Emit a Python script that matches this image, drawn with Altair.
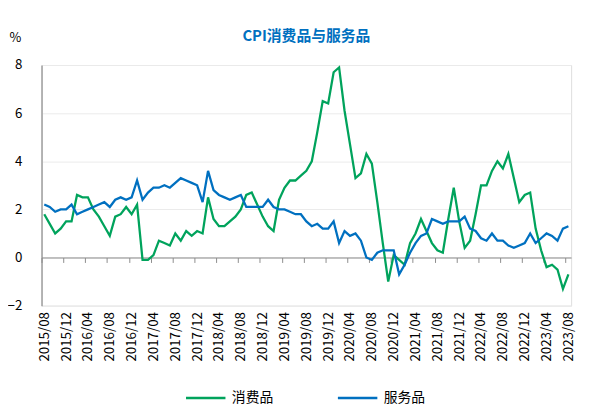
import altair as alt
import pandas as pd

# month categories 2015/08 .. 2023/08
months = []
y, m = 2015, 8
while (y, m) <= (2023, 8):
    months.append(f"{y}/{m:02d}")
    m += 1
    if m > 12:
        m = 1
        y += 1

tick_labels = months[::4]

consumer = [1.8, 1.4, 1.0, 1.2, 1.5, 1.5, 2.6, 2.5, 2.5, 2.0,
            1.7, 1.3, 0.9, 1.7, 1.8, 2.1, 1.8, 2.2, -0.1, -0.1,
            0.1, 0.7, 0.6, 0.5, 1.0, 0.7, 1.1, 0.9, 1.1, 1.0,
            2.5, 1.6, 1.3, 1.3, 1.5, 1.7, 2.0, 2.6, 2.7, 2.2,
            1.7, 1.3, 1.1, 2.4, 2.9, 3.2, 3.2, 3.4, 3.6, 4.0,
            5.2, 6.5, 6.4, 7.7, 7.9, 6.1, 4.7, 3.3, 3.5, 4.3,
            3.9, 2.3, 0.6, -1.0, 0.1, -0.1, -0.3, 0.6, 1.0, 1.6,
            1.1, 0.6, 0.3, 0.2, 1.6, 2.9, 1.5, 0.4, 0.7, 1.8,
            3.0, 3.0, 3.6, 4.0, 3.7, 4.3, 3.3, 2.3, 2.6, 2.7,
            1.2, 0.3, -0.4, -0.3, -0.5, -1.3, -0.7]

services = [2.2, 2.1, 1.9, 2.0, 2.0, 2.2, 1.8, 1.9, 2.0, 2.1,
            2.2, 2.3, 2.1, 2.4, 2.5, 2.4, 2.5, 3.2, 2.4, 2.7,
            2.9, 2.9, 3.0, 2.9, 3.1, 3.3, 3.2, 3.1, 3.0, 2.3,
            3.6, 2.8, 2.6, 2.5, 2.4, 2.5, 2.6, 2.1, 2.1, 2.1,
            2.1, 2.4, 2.1, 2.0, 2.0, 1.9, 1.8, 1.8, 1.5, 1.3,
            1.4, 1.2, 1.2, 1.5, 0.6, 1.1, 0.9, 1.0, 0.7, 0.0,
            -0.1, 0.2, 0.3, 0.3, 0.3, -0.7, -0.3, 0.2, 0.6, 0.9,
            1.0, 1.6, 1.5, 1.4, 1.5, 1.5, 1.5, 1.7, 1.2, 1.1,
            0.8, 0.7, 1.0, 0.7, 0.7, 0.5, 0.4, 0.5, 0.6, 1.0,
            0.6, 0.8, 1.0, 0.9, 0.7, 1.2, 1.3]

series_names = ["消费品", "服务品"]
series_colors = ["#00A35C", "#0070C0"]

rows = []
for name, vals in zip(series_names, [consumer, services]):
    for mo, v in zip(months, vals):
        rows.append({"month": mo, "series": name, "value": v})
df = pd.DataFrame(rows)

W, H = 537, 244
step = W / len(months)
zero_off = H * 2 / 10  # distance of y=0 from bottom of plot

FONT = "Noto Sans CJK SC"

x_enc = alt.X(
    "month:O",
    sort=months,
    scale=alt.Scale(type="point", padding=0.5),
    axis=alt.Axis(
        values=tick_labels,
        title=None,
        labelAngle=270,
        offset=-zero_off,
        domainColor="#8C8C8C",
        domainWidth=1.2,
        tickColor="#8C8C8C",
        tickSize=5,
        tickOffset=-step / 2,
        labelOffset=step / 2,
        labelPadding=zero_off + 1,
        labelFontSize=13.5,
        labelColor="#000000",
        labelFont=FONT,
        grid=False,
    ),
)

y_enc = alt.Y(
    "value:Q",
    scale=alt.Scale(domain=[-2, 8], nice=False, zero=False),
    axis=alt.Axis(
        values=[-2, 0, 2, 4, 6, 8],
        title="%",
        titleAngle=0,
        titleAlign="center",
        titleBaseline="middle",
        titleX=-27,
        titleY=-28,
        titleFontSize=13,
        titleFontWeight="normal",
        titleColor="#000000",
        titleFont=FONT,
        domainColor="#8C8C8C",
        domainWidth=1.2,
        ticks=False,
        labelPadding=20,
        labelFontSize=13.5,
        labelColor="#000000",
        labelFont=FONT,
        grid=True,
        gridColor="#EBEBEB",
        gridWidth=1,
    ),
)

chart = alt.Chart(df).mark_line(strokeWidth=2.3).encode(
    x=x_enc,
    y=y_enc,
    color=alt.Color(
        "series:N",
        sort=series_names,
        scale=alt.Scale(domain=series_names, range=series_colors),
        legend=alt.Legend(
            title=None,
            orient="none",
            direction="horizontal",
            legendX=145,
            legendY=316,
            symbolType="stroke",
            symbolSize=1600,
            symbolStrokeWidth=2.5,
            labelFontSize=14,
            labelFont=FONT,
            labelColor="#000000",
            labelOffset=5,
            columnPadding=60,
        ),
    ),
).properties(
    width=W,
    height=H,
    title=alt.TitleParams(
        "CPI消费品与服务品",
        font=FONT,
        fontSize=15,
        fontWeight="bold",
        color="#0070C0",
        anchor="middle",
        frame="group",
        offset=-13,
    ),
    autosize=alt.AutoSizeParams(type="none"),
    padding={"left": 34, "top": 55, "right": 10, "bottom": 101},
).configure_view(stroke=None).configure(background="white")

chart.save("out.html", embed_options={"renderer": "svg", "actions": False})
